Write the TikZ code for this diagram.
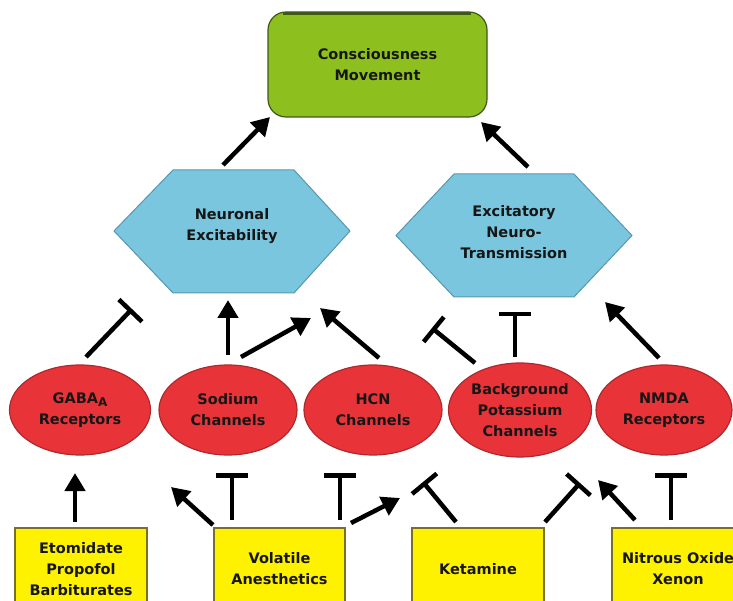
\documentclass[tikz,border=0pt]{standalone}
\usepackage{fontspec}
\setmainfont{DejaVu Sans}
\usetikzlibrary{arrows.meta,shapes.geometric,calc}
\definecolor{cgreen}{RGB}{141,192,31}
\definecolor{cgreendark}{RGB}{62,88,22}
\definecolor{cblue}{RGB}{122,198,222}
\definecolor{cbluedark}{RGB}{88,150,176}
\definecolor{cred}{RGB}{232,52,56}
\definecolor{creddark}{RGB}{176,40,44}
\definecolor{cyellow}{RGB}{255,242,0}
\definecolor{cyellowdark}{RGB}{120,112,40}
\definecolor{ctext}{RGB}{22,22,22}
\begin{document}
\begin{tikzpicture}[x=1pt,y=1pt,
  lbl/.style={font=\fontsize{14.5}{21}\selectfont\bfseries, text=ctext, align=center, inner sep=0pt},
  gbox/.style={lbl, draw=cgreendark, fill=cgreen, line width=1.2pt, rounded corners=18pt, minimum width=219pt, minimum height=105pt},
  hexst/.style={draw=cbluedark, fill=cblue, line width=1pt},
  ell/.style={lbl, ellipse, draw=creddark, fill=cred, line width=1.2pt},
  ybox/.style={lbl, rectangle, draw=cyellowdark, fill=cyellow, line width=1.2pt, minimum width=132pt, minimum height=82pt},
  arr/.style={-{Triangle[length=18pt,width=20pt]}, line width=4.5pt, draw=black},
  inh/.style={-{Bar[width=32pt]}, line width=4.5pt, draw=black}]
\useasboundingbox (0,0) rectangle (733,600);
\clip (0,0) rectangle (733,600);
% top
\node[gbox] (cons) at (377.5,535.5) {Consciousness\\Movement};
\draw[line width=3pt, cgreendark] (283,586.5) -- (471,586.5);
% hexagons
\coordinate (nexc) at (232,368.5);
\draw[hexst] ($(nexc)+(-118,0.5)$) -- ($(nexc)+(-59,61.5)$) -- ($(nexc)+(62,61.5)$) -- ($(nexc)+(118,0.5)$) -- ($(nexc)+(62,-61.5)$) -- ($(nexc)+(-59,-61.5)$) -- cycle;
\node[lbl] (nex) at (232,374) {Neuronal\\Excitability};
\coordinate (entc) at (514,364.5);
\draw[hexst] ($(entc)+(-118,0)$) -- ($(entc)+(-60,61.5)$) -- ($(entc)+(60,61.5)$) -- ($(entc)+(118,0)$) -- ($(entc)+(60,-61.5)$) -- ($(entc)+(-60,-61.5)$) -- cycle;
\node[lbl] (ent) at (514,367.5) {Excitatory\\Neuro-\\Transmission};
% ellipses
\node[ell, minimum width=141pt, minimum height=90pt] (gaba) at (80,190) {GABA\raisebox{-3pt}{\fontsize{12}{12}\selectfont A}\\Receptors};
\node[ell, minimum width=138pt, minimum height=90pt] (sod) at (228,190) {Sodium\\Channels};
\node[ell, minimum width=138pt, minimum height=90pt] (hcn) at (373,190) {HCN\\Channels};
\node[ell, minimum width=143pt, minimum height=94pt] (bkp) at (520,190) {Background\\Potassium\\Channels};
\node[ell, minimum width=136pt, minimum height=90pt] (nmda) at (664,190) {NMDA\\Receptors};
% drug boxes
\node[ybox] (eto) at (81,31) {Etomidate\\Propofol\\Barbiturates};
\node[ybox, minimum width=131pt] (vol) at (279.5,31) {Volatile\\Anesthetics};
\node[ybox] (ket) at (478,31) {Ketamine};
\node[ybox] (nit) at (678,31) {Nitrous Oxide\\Xenon};
% upper connectors
\draw[arr] ($(nex)+(-9,61)$) -- ($(cons)+(-107.5,-52.5)$);
\draw[arr] ($(ent)+(14,65.5)$) -- ($(cons)+(103.5,-57.5)$);
% middle connectors
\draw[inh] ($(gaba)+(6,53)$) -- ($(nex)+(-100,-83)$);
\draw[arr] ($(sod)+(0,55)$) -- ($(nex)+(-4,-74)$);
\draw[arr] ($(sod)+(13,53)$) -- ($(nex)+(79,-92)$);
\draw[arr] ($(hcn)+(6,52)$) -- ($(nex)+(88,-82)$);
\draw[inh] ($(bkp)+(-45,47)$) -- ($(ent)+(-82,-95.5)$);
\draw[inh] ($(bkp)+(-5,53)$) -- ($(ent)+(1,-79.5)$);
\draw[arr] ($(nmda)+(-5,52)$) -- ($(ent)+(91,-69.5)$);
% lower connectors
\draw[arr] ($(eto)+(-6,47)$) -- ($(gaba)+(-5,-63)$);
\draw[arr] ($(vol)+(-66.5,44)$) -- ($(sod)+(-57,-77)$);
\draw[inh] ($(vol)+(-47.5,49)$) -- ($(sod)+(4,-63)$);
\draw[inh] ($(vol)+(60.5,49)$) -- ($(hcn)+(-33,-63)$);
\draw[arr] ($(vol)+(71.5,46)$) -- ($(bkp)+(-120,-88)$);
\draw[inh] ($(ket)+(-22,47)$) -- ($(hcn)+(50,-72)$);
\draw[inh] ($(ket)+(67,47)$) -- ($(nmda)+(-84,-73)$);
\draw[arr] ($(nit)+(-43,49)$) -- ($(bkp)+(78,-70)$);
\draw[inh] ($(nit)+(-7,49)$) -- ($(nmda)+(7,-63)$);
\end{tikzpicture}
\end{document}
